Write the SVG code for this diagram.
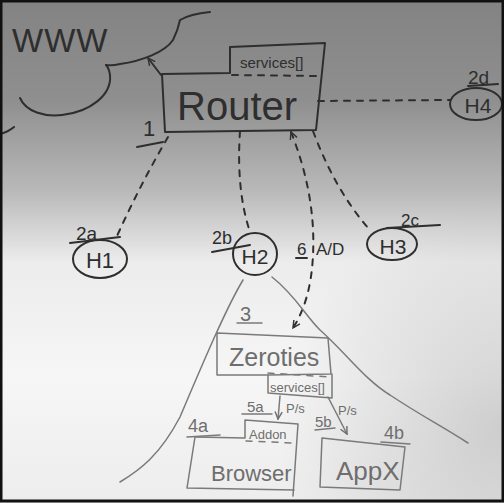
<svg xmlns="http://www.w3.org/2000/svg" width="504" height="503" viewBox="0 0 504 503">
<defs>
<linearGradient id="bg" x1="0" y1="0" x2="0" y2="1">
<stop offset="0" stop-color="#838383"/>
<stop offset="0.2" stop-color="#8f8f8f"/>
<stop offset="0.38" stop-color="#b9b9b9"/>
<stop offset="0.52" stop-color="#ececec"/>
<stop offset="0.75" stop-color="#f6f6f6"/>
<stop offset="1" stop-color="#ededed"/>
</linearGradient>
<radialGradient id="shade" cx="1" cy="0.85" r="0.45">
<stop offset="0" stop-color="#a0a0a0" stop-opacity="0.45"/>
<stop offset="1" stop-color="#a0a0a0" stop-opacity="0"/>
</radialGradient>
<marker id="ahD" viewBox="0 0 10 10" refX="9" refY="5" markerWidth="9" markerHeight="9" markerUnits="userSpaceOnUse" orient="auto-start-reverse">
<path d="M1,1 L9,5 L1,9" fill="none" stroke="#333" stroke-width="1.6"/>
</marker>
<marker id="ahL" viewBox="0 0 10 10" refX="9" refY="5" markerWidth="9" markerHeight="9" markerUnits="userSpaceOnUse" orient="auto-start-reverse">
<path d="M1,1 L9,5 L1,9" fill="none" stroke="#6e6e6e" stroke-width="1.6"/>
</marker>
</defs>
<style>
.dk{fill:none;stroke:#2e2e2e;stroke-width:2;stroke-linecap:round;stroke-linejoin:round}
.lt{fill:none;stroke:#7a7a7a;stroke-width:1.5;stroke-linecap:round;stroke-linejoin:round}
.dash{stroke-dasharray:6 7}
.tdk{font-family:"Liberation Sans",Arial,sans-serif;fill:#2e2e2e}
.tlt{font-family:"Liberation Sans",Arial,sans-serif;fill:#6e6e6e}
</style>
<rect x="0" y="0" width="504" height="503" fill="url(#bg)"/>
<rect x="0" y="0" width="504" height="503" fill="url(#shade)"/>

<g id="www">
<path class="dk" d="M0,134 Q8,132 14,127"/>
<path class="dk" d="M20,98 C26,112 45,117 62,115 C90,112 112,95 110,75 Q109,68 106,65"/>
<path class="dk" d="M106,65 Q112,66 120,64 C142,61 165,52 173,40 Q178,30 180,20 Q190,14 210,12"/>
<text class="tdk" x="12" y="52" font-size="33" letter-spacing="1">WWW</text>
</g>

<g id="router">
<path class="dk" d="M162,74 L230,73 L230,47 L325,43 L316,130 L165,132 Z"/>
<path class="dk dash" d="M232,75 L318,76" stroke-width="1.5"/>
<text class="tdk" x="240" y="68" font-size="15">services[]</text>
<text class="tdk" x="177" y="120" font-size="40">Router</text>
<text class="tdk" x="143" y="136" font-size="22">1</text>
<path class="dk" d="M137,147 L163,142" stroke-width="1.5"/>
</g>

<g id="h1">
<ellipse class="dk" cx="100" cy="259" rx="27" ry="19" stroke-width="1.6"/>
<text class="tdk" x="100" y="268" font-size="22" text-anchor="middle">H1</text>
<text class="tdk" x="76" y="240" font-size="19">2a</text>
<path class="dk" d="M70,243 L120,237" stroke-width="1.4"/>
</g>

<g id="h2">
<ellipse class="dk" cx="255" cy="254" rx="22" ry="21" stroke-width="1.6"/>
<text class="tdk" x="255" y="264" font-size="21" text-anchor="middle">H2</text>
<text class="tdk" x="212" y="244" font-size="18">2b</text>
<path class="dk" d="M212,252 L250,245" stroke-width="1.4"/>
</g>

<g id="h3">
<ellipse class="dk" cx="392" cy="244" rx="25" ry="16" stroke-width="1.8"/>
<text class="tdk" x="393" y="254" font-size="21" text-anchor="middle">H3</text>
<text class="tdk" x="401" y="226" font-size="17">2c</text>
<path class="dk" d="M387,228 L440,225" stroke-width="1.4"/>
</g>

<g id="h4">
<ellipse class="dk" cx="476" cy="104" rx="26" ry="16" stroke-width="1.8"/>
<text class="tdk" x="478" y="113" font-size="21" text-anchor="middle">H4</text>
<text class="tdk" x="468" y="84" font-size="19">2d</text>
<path class="dk" d="M468,86 L498,84" stroke-width="1.4"/>
</g>

<g id="zeroties">
<path class="lt" d="M217,333 L328,338 L331,374 L268,375 L217,375 Z"/>
<path class="lt" d="M268,375 L268,393 L332,398 L332,374"/>
<path class="lt dash" d="M268,373 L330,377" stroke-width="1.2" stroke-dasharray="4 4"/>
<text class="tlt" x="229" y="366" font-size="25">Zeroties</text>
<text class="tlt" x="270" y="392" font-size="13">services[]</text>
<text class="tlt" x="240" y="321" font-size="20">3</text>
<path class="lt" d="M237,323 L262,323"/>
</g>

<g id="browser">
<path class="lt" d="M195,437 L245,438 L245,420 L298,424 L293,496"/>
<path class="lt" d="M195,437 L187,488 L294,490"/>
<path class="lt dash" d="M246,441 L293,443" stroke-width="1.2" stroke-dasharray="4 4"/>
<text class="tlt" x="249" y="439" font-size="13">Addon</text>
<text class="tlt" x="211" y="481" font-size="22">Browser</text>
<text class="tlt" x="188" y="432" font-size="18">4a</text>
<path class="lt" d="M187,437 L220,435"/>
</g>

<g id="appx">
<path class="lt" d="M322,438 L405,447 L400,490 L320,487 Z"/>
<text class="tlt" x="336" y="480" font-size="26">AppX</text>
<text class="tlt" x="384" y="439" font-size="18">4b</text>
<path class="lt" d="M381,442 L410,444"/>
</g>

<g id="connectors">
<path class="dk" d="M161,75 L148,58" stroke-width="1.6" marker-end="url(#ahD)"/>
<path class="dk dash" d="M168,137 Q140,185 117,236" stroke-width="1.6"/>
<path class="dk dash" d="M240,131 Q236,190 250,232" stroke-width="1.6"/>
<path class="dk dash" d="M291,132 Q316,195 313,255 Q311,300 293,328" stroke-width="1.6" marker-start="url(#ahD)" marker-end="url(#ahD)"/>
<path class="dk dash" d="M313,131 Q335,190 369,229" stroke-width="1.6"/>
<path class="dk dash" d="M318,101 L450,100" stroke-width="1.6"/>
<path class="lt" d="M243,280 C225,310 200,370 180,417 C160,455 140,470 120,482" stroke-width="1.2"/>
<path class="lt" d="M272,277 C295,295 305,315 320,330 C345,352 365,380 390,395 C420,415 440,425 468,443" stroke-width="1.2"/>
<path class="lt" d="M280,396 L278,419" marker-end="url(#ahL)"/>
<path class="lt" d="M328,397 L347,434" marker-end="url(#ahL)"/>
<text class="tdk" x="297" y="255" font-size="17">6</text>
<path class="dk" d="M296,258 L307,258" stroke-width="1.2"/>
<text class="tdk" x="316" y="255" font-size="17">A/D</text>
<text class="tlt" x="247" y="412" font-size="15">5a</text>
<path class="lt" d="M242,414 L272,414"/>
<text class="tlt" x="286" y="413" font-size="13">P/s</text>
<text class="tlt" x="315" y="427" font-size="15">5b</text>
<path class="lt" d="M315,430 L335,428"/>
<text class="tlt" x="338" y="415" font-size="13">P/s</text>
</g>
<rect x="1" y="1" width="502" height="500" fill="none" stroke="#111" stroke-width="3"/>
</svg>
